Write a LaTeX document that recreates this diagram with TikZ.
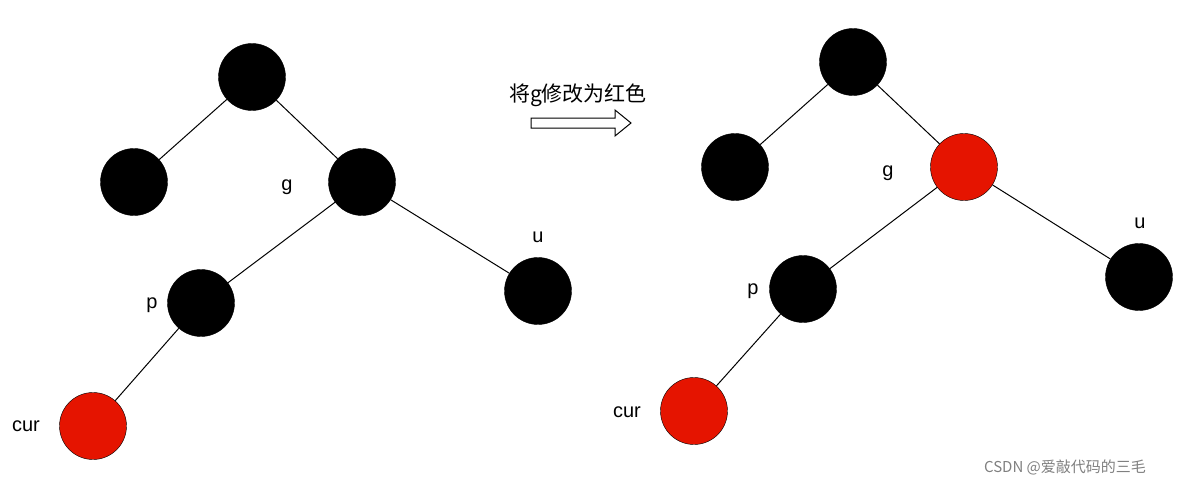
\documentclass[tikz,border=0pt]{standalone}
\usepackage{fontspec}
\setmainfont{Liberation Sans}
\newfontfamily\cjk{Noto Sans CJK SC}
\definecolor{rbred}{HTML}{E51400}
\begin{document}
\begin{tikzpicture}[x=1pt,y=-1pt,
  blk/.style={circle,draw=black,fill=black,minimum size=67pt,inner sep=0pt},
  rnode/.style={circle,draw=black,fill=rbred,minimum size=67pt,inner sep=0pt},
  lbl/.style={font=\fontsize{20}{22}\selectfont},
  edge/.style={draw=black,line width=1pt}]
\useasboundingbox (0,0) rectangle (1187,487);
% left tree
\node[blk] (a1) at (252,77) {};
\node[blk] (b1) at (134,182) {};
\node[blk] (g1) at (362,182) {};
\node[blk] (p1) at (201,303) {};
\node[blk] (u1) at (538,291) {};
\node[rnode] (c1) at (93,426) {};
\draw[edge] (a1)--(b1) (a1)--(g1) (g1)--(p1) (g1)--(u1) (p1)--(c1);
\node[lbl] (lg1) at (287,187) {g};
\node[lbl] (lp1) at (152,305) {p};
\node[lbl] (lu1) at (538,237) {u};
\node[lbl] (lc1) at (26,426) {cur};
% right tree
\node[blk] (a2) at (853,62) {};
\node[blk] (b2) at (735,167) {};
\node[rnode] (g2) at (964,167) {};
\node[blk] (p2) at (803,289) {};
\node[blk] (u2) at (1139,277) {};
\node[rnode] (c2) at (694,411) {};
\draw[edge] (a2)--(b2) (a2)--(g2) (g2)--(p2) (g2)--(u2) (p2)--(c2);
\node[lbl] (lg2) at (888,173) {g};
\node[lbl] (lp2) at (753,291) {p};
\node[lbl] (lu2) at (1140,223) {u};
\node[lbl] (lc2) at (627,412) {cur};
% arrow
\node[font=\cjk\fontsize{21}{23}\selectfont] (t) at (578,95) {将g修改为红色};
\draw[line width=1pt,fill=white] (531,118)--(615,118)--(615,110)--(631,123)--(615,136)--(615,128)--(531,128)--cycle;
\node[font=\cjk\fontsize{15}{17}\selectfont,text=gray] (wm) at (1065,467) {CSDN @爱敲代码的三毛};
\end{tikzpicture}
\end{document}
